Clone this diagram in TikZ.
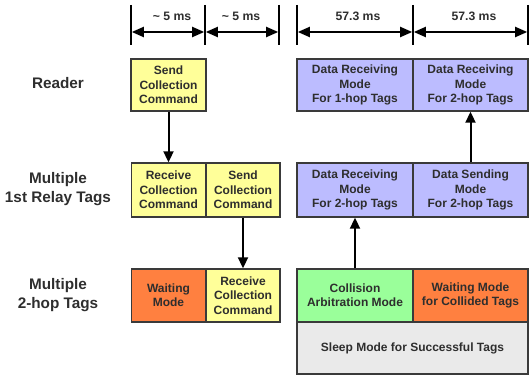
\documentclass[tikz,border=0pt]{standalone}
\usepackage{fontspec}
\setmainfont{Liberation Sans}
\usetikzlibrary{arrows.meta}
\definecolor{ylw}{HTML}{FFFF99}
\definecolor{lav}{HTML}{BCBCFF}
\definecolor{org}{HTML}{FF8040}
\definecolor{grn}{HTML}{9AFF9A}
\definecolor{gry}{HTML}{EAEAEA}
\definecolor{edge}{HTML}{3A3A3A}
\definecolor{txt}{HTML}{2E2E2E}
\begin{document}
\begin{tikzpicture}[x=1pt,y=-1pt,
  box/.style={draw=edge,line width=1.4pt,inner sep=0pt,text=txt,
    font=\bfseries\fontsize{12}{14.3}\selectfont,align=center},
  lbl/.style={text=txt,font=\bfseries\fontsize{15.3}{19}\selectfont,align=center},
  dim/.style={text=txt,font=\bfseries\fontsize{12.2}{14}\selectfont},
  tick/.style={line width=1.6pt,draw=black},
  darr/.style={line width=2pt,{Triangle[length=12pt,width=10pt]}-{Triangle[length=12pt,width=10pt]}},
  farr/.style={line width=2pt,-{Triangle[length=11pt,width=10pt]}}]
\useasboundingbox (0,0) rectangle (529,377);
% row labels
\node[lbl] (lr) at (58,83) {Reader};
\node[lbl] (l1) at (58,189) {Multiple\\1st Relay Tags};
\node[lbl] (l2) at (58,295) {Multiple\\2-hop Tags};
% left boxes
\node[box,fill=ylw,minimum width=75pt,minimum height=52pt] (rs) at (168.5,85) {Send\\Collection\\Command};
\node[box,fill=ylw,minimum width=74.5pt,minimum height=54pt] (m1) at (168.5,190) {Receive\\Collection\\Command};
\node[box,fill=ylw,minimum width=74pt,minimum height=54pt] (m2) at (243,190) {Send\\Collection\\Command};
\node[box,fill=org,minimum width=74.5pt,minimum height=53pt] (b1) at (168.5,295.5) {Waiting\\Mode};
\node[box,fill=ylw,minimum width=74pt,minimum height=53pt] (b2) at (243,295.5) {Receive\\Collection\\Command};
% right boxes
\node[box,fill=lav,minimum width=116pt,minimum height=52pt] (r1) at (355,85) {Data Receiving\\Mode\\For 1-hop Tags};
\node[box,fill=lav,minimum width=115pt,minimum height=52pt] (r2) at (470.5,85) {Data Receiving\\Mode\\For 2-hop Tags};
\node[box,fill=lav,minimum width=116pt,minimum height=54pt] (s1) at (355,190) {Data Receiving\\Mode\\For 2-hop Tags};
\node[box,fill=lav,minimum width=115pt,minimum height=54pt] (s2) at (470.5,190) {Data Sending\\Mode\\For 2-hop Tags};
\node[box,fill=gry,minimum width=231pt,minimum height=52pt] (sl) at (412.5,348) {Sleep Mode for Successful Tags};
\node[box,fill=grn,minimum width=116pt,minimum height=53pt] (t1) at (355,295.5) {Collision\\Arbitration Mode};
\node[box,fill=org,minimum width=115pt,minimum height=53pt] (t2) at (470.5,295.5) {Waiting Mode\\for Collided Tags};
% dimension lines
\coordinate (d1t) at (131,5); \coordinate (d1b) at (131,45);
\coordinate (d2t) at (205,5); \coordinate (d2b) at (205,45);
\coordinate (d3t) at (279,5); \coordinate (d3b) at (279,45);
\coordinate (e1t) at (297,5); \coordinate (e1b) at (297,45);
\coordinate (e2t) at (413,5); \coordinate (e2b) at (413,45);
\coordinate (e3t) at (528,5); \coordinate (e3b) at (528,45);
\foreach \a/\b in {d1t/d1b,d2t/d2b,d3t/d3b,e1t/e1b,e2t/e2b,e3t/e3b}
  \draw[tick] (\a) -- (\b);
\coordinate (a1) at (131.8,32); \coordinate (a2) at (204.2,32);
\coordinate (a3) at (205.8,32); \coordinate (a4) at (278.2,32);
\coordinate (a5) at (297.8,32); \coordinate (a6) at (412.2,32);
\coordinate (a7) at (413.8,32); \coordinate (a8) at (527.2,32);
\draw[darr] (a1) -- (a2);
\draw[darr] (a3) -- (a4);
\draw[darr] (a5) -- (a6);
\draw[darr] (a7) -- (a8);
\node[dim] (t5a) at (172,16) {\textasciitilde\ 5 ms};
\node[dim] (t5b) at (241,16) {\textasciitilde\ 5 ms};
\node[dim] (t57a) at (358,16) {57.3 ms};
\node[dim] (t57b) at (474,16) {57.3 ms};
% flow arrows
\draw[farr] (rs.south) -- (m1.north);
\draw[farr] (m2.south) -- (b2.north);
\draw[farr] (t1.north) -- (s1.south);
\draw[farr] (s2.north) -- (r2.south);
\end{tikzpicture}
\end{document}
